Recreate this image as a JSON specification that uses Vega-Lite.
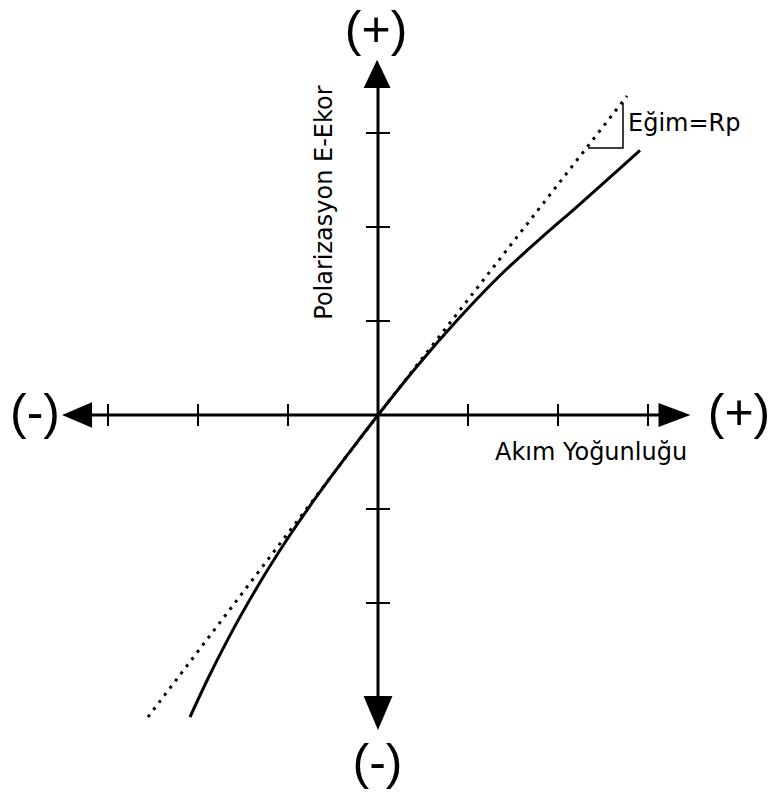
{
  "$schema": "https://vega.github.io/schema/vega-lite/v6.json",
  "width": 776,
  "height": 794,
  "padding": 0,
  "autosize": {"type": "fit", "contains": "padding"},
  "background": "white",
  "config": {"view": {"stroke": null}},
  "datasets": {
    "axes": [
      {"x": -3.311, "x2": 3.267, "y": 0, "y2": 0},
      {"x": 0, "x2": 0, "y": 3.6, "y2": -3.17}
    ],
    "xticks": [{"x": -3, "y": 0}, {"x": -2, "y": 0}, {"x": -1, "y": 0}, {"x": 1, "y": 0}, {"x": 2, "y": 0}, {"x": 3, "y": 0}],
    "yticks": [{"x": 0, "y": -3}, {"x": 0, "y": -2}, {"x": 0, "y": -1}, {"x": 0, "y": 1}, {"x": 0, "y": 2}, {"x": 0, "y": 3}],
    "leftArrow": [{"x": -3.344, "y": 0}],
    "rightArrow": [{"x": 3.294, "y": 0}],
    "upArrow": [{"x": -0.01, "y": 3.628}],
    "downArrow": [{"x": 0.0, "y": -3.17}],
    "tangent": [{"x": -2.556, "y": -3.213}, {"x": 0, "y": 0}, {"x": 2.767, "y": 3.394}],
    "curve": [
      {"x": -2.089, "y": -3.213},
      {"x": -1.889, "y": -2.803},
      {"x": -1.667, "y": -2.384},
      {"x": -1.333, "y": -1.816},
      {"x": -1.0, "y": -1.309},
      {"x": -0.667, "y": -0.848},
      {"x": -0.333, "y": -0.416},
      {"x": 0, "y": 0},
      {"x": 0.444, "y": 0.53},
      {"x": 0.889, "y": 1.018},
      {"x": 1.333, "y": 1.463},
      {"x": 1.778, "y": 1.855},
      {"x": 2.222, "y": 2.226},
      {"x": 2.667, "y": 2.606},
      {"x": 2.911, "y": 2.815}
    ],
    "slopeMark": [{"x": 2.333, "y": 2.84, "o": 1}, {"x": 2.722, "y": 2.84, "o": 2}, {"x": 2.722, "y": 3.319, "o": 3}],
    "signs": [
      {"label": "(+)", "x": -0.022, "y": 3.926},
      {"label": "(-)", "x": -0.006, "y": -3.872},
      {"label": "(-)", "x": -3.811, "y": -0.149},
      {"label": "(+)", "x": 4.011, "y": -0.149}
    ],
    "ylabel": [{"label": "Polarizasyon E-Ekor", "x": -0.511, "y": 2.26}],
    "xlabel": [{"label": "Akım Yoğunluğu", "x": 2.367, "y": -0.479}],
    "slopeLabel": [{"label": "Eğim=Rp", "x": 2.778, "y": 3.021}]
  },
  "encoding": {
    "x": {"field": "x", "type": "quantitative", "axis": null, "scale": {"domain": [-4.2, 4.422], "nice": false, "zero": false}},
    "y": {"field": "y", "type": "quantitative", "axis": null, "scale": {"domain": [-4.032, 4.415], "nice": false, "zero": false}}
  },
  "layer": [
    {
      "data": {"name": "axes"},
      "mark": {"type": "rule", "color": "black", "strokeWidth": 3},
      "encoding": {"x2": {"field": "x2"}, "y2": {"field": "y2"}}
    },
    {
      "data": {"name": "xticks"},
      "mark": {"type": "tick", "orient": "vertical", "color": "black", "size": 22, "thickness": 2, "opacity": 1}
    },
    {
      "data": {"name": "yticks"},
      "mark": {"type": "tick", "orient": "horizontal", "color": "black", "size": 24, "thickness": 2, "opacity": 1}
    },
    {
      "data": {"name": "leftArrow"},
      "mark": {"type": "point", "shape": "M-1,0L1,-0.85L1,0.85Z", "size": 900, "filled": true, "color": "black", "opacity": 1, "strokeWidth": 0}
    },
    {
      "data": {"name": "rightArrow"},
      "mark": {"type": "point", "shape": "M1,0L-1,-0.75L-1,0.75Z", "size": 1024, "filled": true, "color": "black", "opacity": 1, "strokeWidth": 0}
    },
    {
      "data": {"name": "upArrow"},
      "mark": {"type": "point", "shape": "M0,-1L-0.95,1L0.95,1Z", "size": 800, "filled": true, "color": "black", "opacity": 1, "strokeWidth": 0}
    },
    {
      "data": {"name": "downArrow"},
      "mark": {"type": "point", "shape": "M0,1L-0.85,-1L0.85,-1Z", "size": 1156, "filled": true, "color": "black", "opacity": 1, "strokeWidth": 0}
    },
    {
      "data": {"name": "tangent"},
      "mark": {"type": "line", "color": "black", "strokeWidth": 3, "strokeDash": [3, 6]}
    },
    {
      "data": {"name": "curve"},
      "mark": {"type": "line", "color": "black", "strokeWidth": 3, "interpolate": "monotone"}
    },
    {
      "data": {"name": "slopeMark"},
      "mark": {"type": "line", "color": "black", "strokeWidth": 1.5},
      "encoding": {"order": {"field": "o", "type": "quantitative"}}
    },
    {
      "data": {"name": "signs"},
      "mark": {"type": "text", "font": "Liberation Sans", "fontSize": 50, "align": "center", "baseline": "alphabetic", "color": "black"},
      "encoding": {"text": {"field": "label"}}
    },
    {
      "data": {"name": "ylabel"},
      "mark": {"type": "text", "font": "DejaVu Sans", "fontSize": 24, "angle": 270, "align": "center", "baseline": "alphabetic", "color": "black"},
      "encoding": {"text": {"field": "label"}}
    },
    {
      "data": {"name": "xlabel"},
      "mark": {"type": "text", "font": "DejaVu Sans", "fontSize": 24, "align": "center", "baseline": "alphabetic", "color": "black"},
      "encoding": {"text": {"field": "label"}}
    },
    {
      "data": {"name": "slopeLabel"},
      "mark": {"type": "text", "font": "DejaVu Sans", "fontSize": 24, "align": "left", "baseline": "alphabetic", "color": "black"},
      "encoding": {"text": {"field": "label"}}
    }
  ]
}
